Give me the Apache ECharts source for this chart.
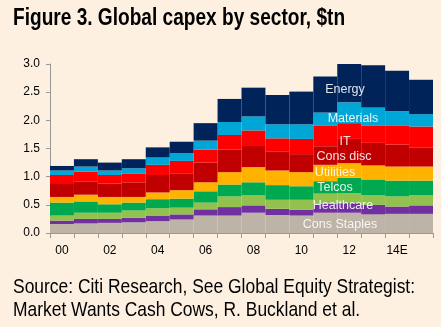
<!DOCTYPE html>
<html>
<head>
<meta charset="utf-8">
<script src="https://cdn.jsdelivr.net/npm/echarts@6/dist/echarts.min.js"></script>
<style>
  html, body { margin: 0; padding: 0; background: #fdf0e1; }
  #main { width: 441px; height: 327px; }
</style>
</head>
<body>
<div id="main"></div>
<script>
// 年份（14E、15E 为预测值）
const years = ['00', '01', '02', '03', '04', '05', '06', '07', '08', '09', '10', '11', '12', '13', '14E', '15E'];

// 各行业资本开支，单位：万亿美元（从下往上堆叠）
const consStaples = [0.16, 0.17, 0.18, 0.19, 0.21, 0.24, 0.31, 0.31, 0.36, 0.32, 0.31, 0.36, 0.36, 0.33, 0.34, 0.34];
const healthcare  = [0.06, 0.08, 0.07, 0.08, 0.10, 0.09, 0.11, 0.15, 0.13, 0.11, 0.10, 0.16, 0.17, 0.17, 0.13, 0.15];
const industrials = [0.09, 0.11, 0.11, 0.13, 0.13, 0.12, 0.12, 0.19, 0.18, 0.16, 0.18, 0.18, 0.18, 0.17, 0.18, 0.18];
const telcos      = [0.23, 0.20, 0.15, 0.14, 0.16, 0.16, 0.20, 0.21, 0.23, 0.26, 0.24, 0.22, 0.27, 0.28, 0.28, 0.26];
const utilities   = [0.10, 0.12, 0.13, 0.10, 0.12, 0.15, 0.16, 0.22, 0.27, 0.26, 0.25, 0.29, 0.26, 0.25, 0.25, 0.25];
const consDisc    = [0.23, 0.23, 0.24, 0.26, 0.31, 0.30, 0.35, 0.40, 0.39, 0.34, 0.32, 0.33, 0.43, 0.40, 0.39, 0.34];
const it          = [0.16, 0.18, 0.15, 0.15, 0.18, 0.22, 0.23, 0.26, 0.26, 0.23, 0.27, 0.37, 0.28, 0.31, 0.34, 0.37];
const materials   = [0.08, 0.09, 0.08, 0.10, 0.13, 0.14, 0.16, 0.23, 0.25, 0.25, 0.26, 0.23, 0.37, 0.32, 0.25, 0.22];
const energy      = [0.08, 0.13, 0.14, 0.16, 0.18, 0.20, 0.31, 0.41, 0.51, 0.52, 0.58, 0.64, 0.69, 0.75, 0.72, 0.61];

const yTicks = [0, 0.5, 1.0, 1.5, 2.0, 2.5, 3.0];

const layers = [
  { name: 'Cons Staples', data: consStaples, color: '#bdb3a6' },
  { name: 'Healthcare',   data: healthcare,  color: '#7030a0' },
  { name: 'Industrials',  data: industrials, color: '#92c14e' },
  { name: 'Telcos',       data: telcos,      color: '#00a84f' },
  { name: 'Utilities',    data: utilities,   color: '#ffb300' },
  { name: 'Cons disc',    data: consDisc,    color: '#c00000' },
  { name: 'IT',           data: it,          color: '#ff0000' },
  { name: 'Materials',    data: materials,   color: '#00a6d6' },
  { name: 'Energy',       data: energy,      color: '#00245a' }
];

// 图内的行业标注
const tagStyle = { fill: 'rgba(255,255,255,0.88)', fontSize: 12.5, fontFamily: 'Liberation Sans, Arial, sans-serif', align: 'center', verticalAlign: 'middle' };
const tags = [
  ['Energy', 345, 90],
  ['Materials', 353, 119],
  ['IT', 345, 142],
  ['Cons disc', 344, 157],
  ['Utilities', 335, 173],
  ['Telcos', 335, 188],
  ['Healthcare', 343, 206],
  ['Cons Staples', 340, 225]
];

const myChart = echarts.init(document.getElementById('main'));
myChart.setOption({
  backgroundColor: '#fdf0e1',
  animation: false,
  grid: { left: 50, right: 8, top: 64, bottom: 94 },
  xAxis: {
    type: 'category',
    data: years,
    axisLine: { lineStyle: { color: '#999', width: 1 } },
    axisTick: { show: true, interval: 0, length: 5, lineStyle: { color: '#999' } },
    axisLabel: {
      interval: 1, color: '#000', fontSize: 12, margin: 12,
      fontFamily: 'Liberation Sans, Arial, sans-serif'
    }
  },
  yAxis: {
    type: 'value',
    min: 0,
    max: 3,
    interval: 0.5,
    splitLine: { show: false },
    axisLine: { show: true, lineStyle: { color: '#999', width: 1 } },
    axisTick: { show: true, length: 4, inside: false, lineStyle: { color: '#999' } },
    axisLabel: {
      color: '#000', fontSize: 12, margin: 10,
      fontFamily: 'Liberation Sans, Arial, sans-serif',
      formatter: v => yTicks.indexOf(v) >= 0 ? v.toFixed(1) : ''
    }
  },
  series: layers.map(l => ({
    name: l.name,
    type: 'bar',
    stack: 'capex',
    barCategoryGap: '0%',
    data: l.data,
    itemStyle: { color: l.color }
  })),
  graphic: [
    {
      type: 'text', left: 13, top: 7, scaleX: 0.83,
      style: { text: 'Figure 3. Global capex by sector, $tn', fill: '#000', fontSize: 23, fontWeight: 'bold', fontFamily: 'Liberation Sans, Arial, sans-serif' }
    },
    {
      type: 'text', left: 13, top: 276, scaleX: 0.83,
      style: { text: 'Source: Citi Research, See Global Equity Strategist:\nMarket Wants Cash Cows, R. Buckland et al.', fill: '#000', fontSize: 21, lineHeight: 23, fontFamily: 'Liberation Sans, Arial, sans-serif' }
    }
  ].concat(tags.map(t => ({
    type: 'text', x: t[1], y: t[2], z: 10,
    style: Object.assign({ text: t[0] }, tagStyle)
  })))
});
</script>
</body>
</html>
